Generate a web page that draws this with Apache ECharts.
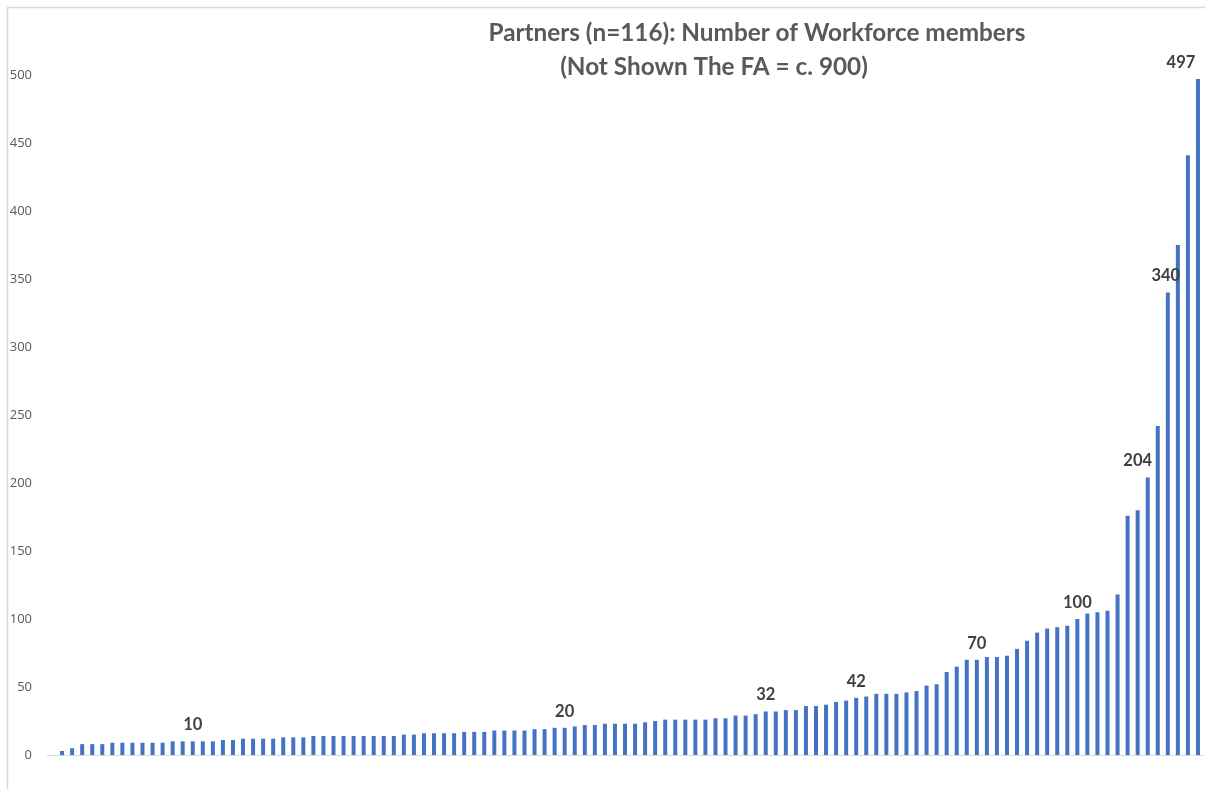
<!DOCTYPE html>
<html>
<head>
<meta charset="utf-8">
<script src="https://cdn.jsdelivr.net/npm/echarts@6/dist/echarts.min.js"></script>
<style>
  html, body { margin: 0; padding: 0; background: #ffffff; }
  #chart { width: 1205px; height: 789px; }
</style>
</head>
<body>
<div id="chart"></div>
<script>
// Workforce size of each partner, sorted ascending (the first partner has none)
const workforce = [
  0,
  3, 5, 8, 8, 8, 9, 9, 9, 9, 9,
  9, 10, 10, 10, 10, 10, 11, 11, 12, 12,
  12, 12, 13, 13, 13, 14, 14, 14, 14, 14,
  14, 14, 14, 14, 15, 15, 16, 16, 16, 16,
  17, 17, 17, 18, 18, 18, 18, 19, 19, 20,
  20, 21, 22, 22, 23, 23, 23, 23, 24, 25,
  26, 26, 26, 26, 26, 27, 27, 29, 29, 30,
  32, 32, 33, 33, 36, 36, 37, 39, 40, 42,
  43, 45, 45, 45, 46, 47, 51, 52, 61, 65,
  70, 70, 72, 72, 73, 78, 84, 90, 93, 94,
  95, 100, 104, 105, 106, 118, 176, 180, 204, 242,
  340, 375, 441, 497
];

// Partner rank used as the (hidden) category name
const partners = workforce.map((_, i) => 'Partner ' + (i + 1));

// Positions in the sorted list whose value is printed above the bar
const labelledPartners = [14, 51, 71, 80, 92, 102, 109, 111, 114];

// Value axis ticks
const yTicks = { min: 0, max: 500, interval: 50 };

const titleLines = [
  'Partners (n=116): Number of Workforce members',
  '(Not Shown The FA = c. 900)'
];

// Horizontal nudges for labels crowded near the right edge
const labelShift = { 109: -10, 111: -2, 114: -17 };

const barData = workforce.map((v, i) => {
  if (labelledPartners.indexOf(i) === -1) return v;
  return {
    value: v,
    label: { show: true, offset: [labelShift[i] || 0, 0] }
  };
});

const chart = echarts.init(document.getElementById('chart'), null, { renderer: 'canvas' });

chart.setOption({
  animation: false,
  backgroundColor: '#ffffff',
  grid: { left: 47, right: 2, top: 75, bottom: 34, containLabel: false },
  xAxis: {
    type: 'category',
    data: partners,
    axisLine: { show: true, lineStyle: { color: '#d9d9d9', width: 1 } },
    axisTick: { show: false },
    axisLabel: { show: false },
    splitLine: { show: false }
  },
  yAxis: {
    type: 'value',
    min: yTicks.min,
    max: yTicks.max,
    interval: yTicks.interval,
    axisLine: { show: false },
    axisTick: { show: false },
    splitLine: { show: false },
    axisLabel: {
      color: '#595959',
      fontFamily: 'Open Sans',
      fontSize: 13,
      margin: 15
    }
  },
  series: [{
    type: 'bar',
    data: barData,
    barWidth: 4,
    itemStyle: { color: '#4472c4' },
    label: {
      show: false,
      position: 'top',
      distance: 8,
      color: '#404040',
      fontFamily: 'Lato',
      fontWeight: 'bold',
      fontSize: 16.5
    }
  }],
  graphic: [
    {
      type: 'rect',
      silent: true,
      shape: { x: 7.5, y: 7.5, width: 1400, height: 1000 },
      style: { fill: 'none', stroke: '#d9d9d9', lineWidth: 1.5 }
    },
    {
      type: 'text',
      silent: true,
      x: 757, y: 33,
      style: {
        text: titleLines[0],
        align: 'center', verticalAlign: 'middle',
        fill: '#595959',
        font: 'bold 24.3px Lato'
      }
    },
    {
      type: 'text',
      silent: true,
      x: 714, y: 67,
      style: {
        text: titleLines[1],
        align: 'center', verticalAlign: 'middle',
        fill: '#595959',
        font: 'bold 24.3px Lato'
      }
    }
  ]
});
</script>
</body>
</html>
